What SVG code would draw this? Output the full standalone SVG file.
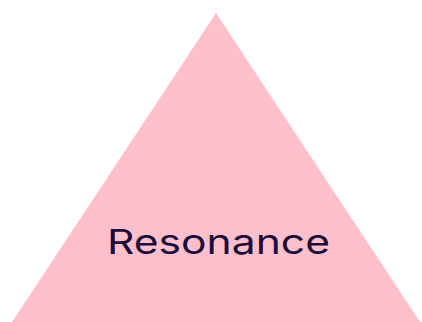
<svg xmlns="http://www.w3.org/2000/svg" width="422" height="322" viewBox="0 0 422 322">
<style>
.tri{fill:#ffc0cb;stroke:none}
.lbl{font-family:Inter,"Noto Sans","Liberation Sans",sans-serif;font-size:34px;font-weight:400;fill:#1b0b3b}
</style>
<rect width="422" height="322" fill="#ffffff"/>
<g id="resonance">
<polygon class="tri" points="216,13 12,322 420,322"/>
<text class="lbl" x="107" y="254" textLength="223" lengthAdjust="spacingAndGlyphs">Resonance</text>
</g>
</svg>
